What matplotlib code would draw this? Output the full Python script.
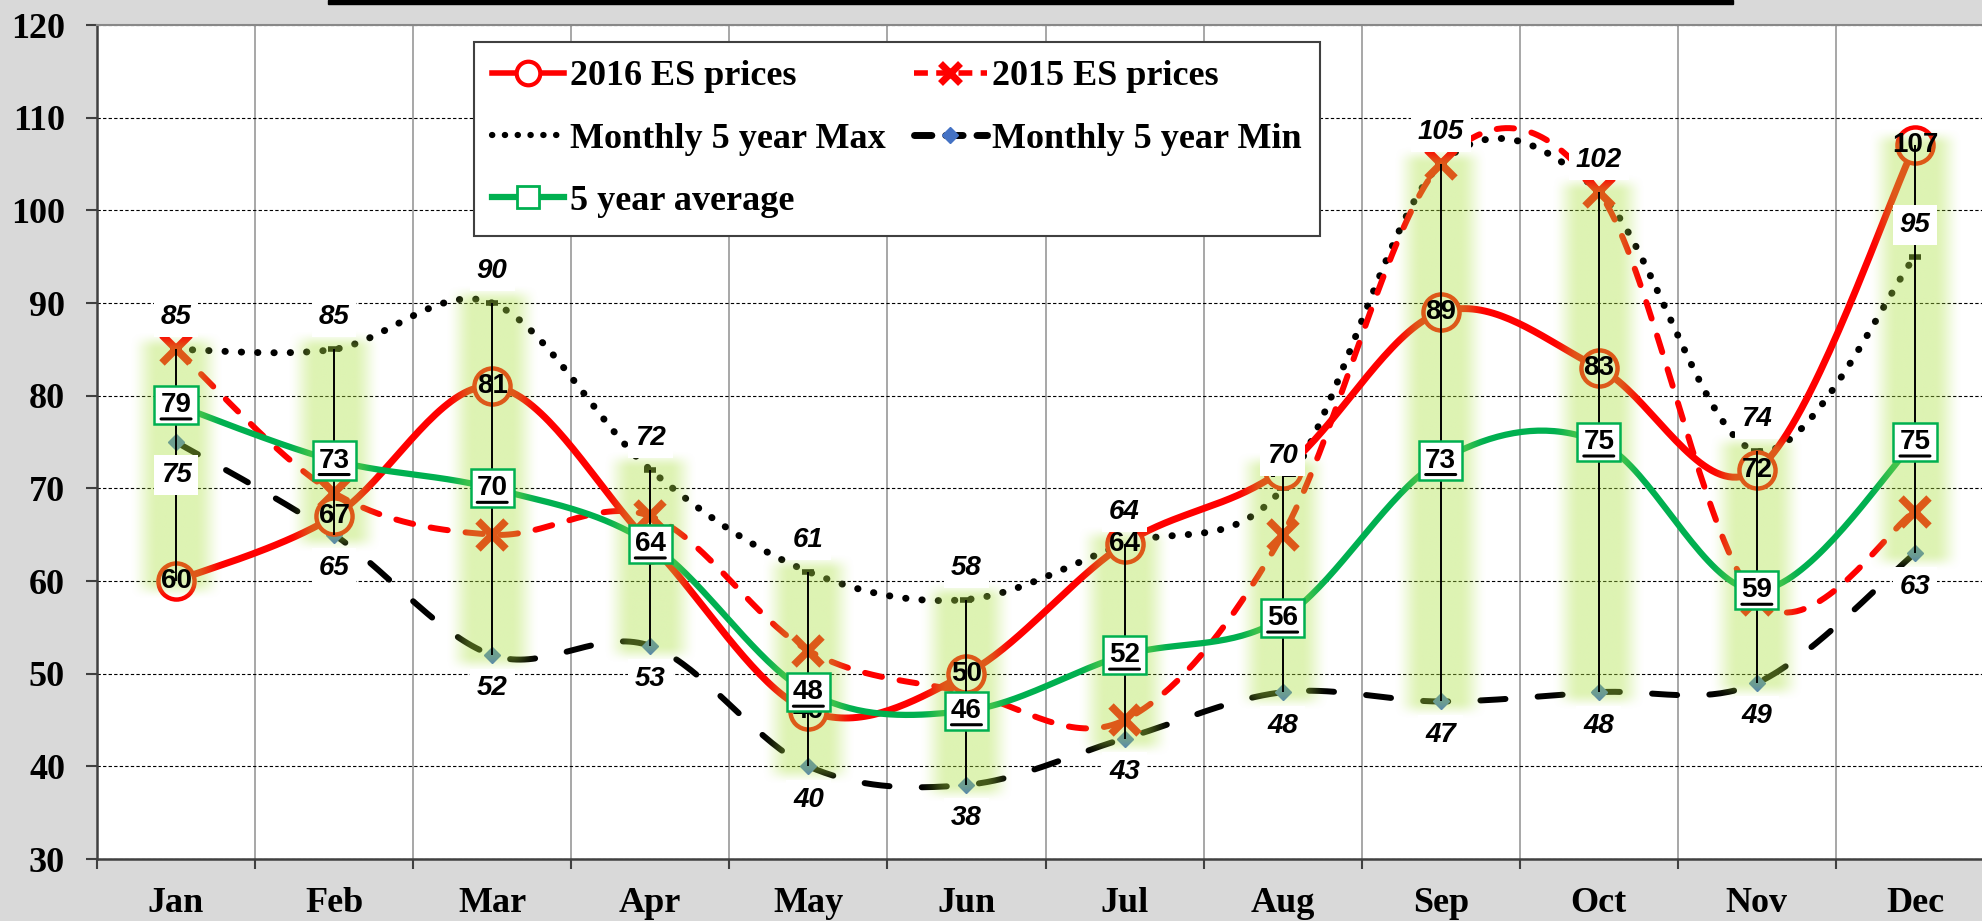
import numpy as np
import matplotlib
matplotlib.use("Agg")
import matplotlib.pyplot as plt
from matplotlib.lines import Line2D
from matplotlib.patches import Rectangle
from matplotlib.transforms import offset_copy

# data
months = ["Jan", "Feb", "Mar", "Apr", "May", "Jun",
          "Jul", "Aug", "Sep", "Oct", "Nov", "Dec"]
es_2016 = [60, 67, 81, 64, 46, 50, 64, 72, 89, 83, 72, 107]
es_2015 = [85, 69.5, 65, 67, 52.5, 48, 45, 65, 105, 102, 58, 67.5]
max_5yr = [85, 85, 90, 72, 61, 58, 64, 70, 105, 102, 74, 95]
min_5yr = [75, 65, 52, 53, 40, 38, 43, 48, 47, 48, 49, 63]
avg_5yr = [79, 73, 70, 64, 48, 46, 52, 56, 73, 75, 59, 75]

RED = "#ff0000"
GREEN = "#00b050"
SERIF = ["Liberation Serif", "DejaVu Serif"]
SANS = ["Liberation Sans", "DejaVu Sans"]


def smooth(vals, n=40):
    # excel style smoothed line (catmull-rom / bezier with 1/6 handles)
    y = np.asarray(vals, float)
    x = np.arange(len(y), dtype=float)
    px = np.concatenate([[x[0]], x, [x[-1]]])
    py = np.concatenate([[y[0]], y, [y[-1]]])
    t = np.linspace(0, 1, n)[:, None]
    xs, ys = [], []
    for i in range(len(y) - 1):
        p0 = np.array([px[i + 1], py[i + 1]])
        p3 = np.array([px[i + 2], py[i + 2]])
        c1 = p0 + (p3 - np.array([px[i], py[i]])) / 6.0
        c2 = p3 - (np.array([px[i + 3], py[i + 3]]) - p0) / 6.0
        b = ((1 - t) ** 3) * p0 + 3 * ((1 - t) ** 2) * t * c1 + 3 * (1 - t) * t ** 2 * c2 + t ** 3 * p3
        xs.append(b[:, 0])
        ys.append(b[:, 1])
    return np.concatenate(xs), np.concatenate(ys)


fig = plt.figure(figsize=(19.83, 9.21), dpi=100, facecolor="#d9d9d9")
ax = fig.add_axes([97 / 1983, 62 / 921, (1994 - 97) / 1983, 834 / 921])
ax.set_facecolor("white")

x = np.arange(len(months))

# lines
sx, sy = smooth(min_5yr)
ax.plot(sx, sy, color="black", lw=4.3, ls=(0, (4.2, 5.4)), dash_capstyle="round", zorder=2)
ax.plot(x, min_5yr, ls="none", marker="D", ms=8, color="#4472c4", zorder=2.1)

sx, sy = smooth(max_5yr)
ax.plot(sx, sy, color="black", lw=5, ls=(0, (0.05, 2.3)), dash_capstyle="round", zorder=2)
ax.plot(x, max_5yr, ls="none", marker="_", ms=9, mew=4, color="black", zorder=2.1)

sx, sy = smooth(es_2015)
ax.plot(sx, sy, color=RED, lw=4.3, ls=(0, (2.9, 3.0)), dash_capstyle="round", zorder=2.2)
ax.plot(x, es_2015, ls="none", marker="x", ms=20, mew=5.5, color=RED, zorder=2.3)

sx, sy = smooth(es_2016)
ax.plot(sx, sy, color=RED, lw=5, zorder=2.4)
ax.plot(x, es_2016, ls="none", marker="o", ms=26, mew=3.2, mfc="white", mec=RED, zorder=2.5)

sx, sy = smooth(avg_5yr)
ax.plot(sx, sy, color=GREEN, lw=4.5, zorder=2.6)

# high-low lines with soft green glow
allv = np.array([es_2016, es_2015, max_5yr, min_5yr, avg_5yr], float)
hi = allv.max(axis=0)
lo = allv.min(axis=0)

glow_rgb = np.array([172, 225, 65]) / 255.0
hw = 0.30
ext = 2.0
for i in range(len(months)):
    nx, ny = 80, 240
    u = np.abs(np.linspace(-1, 1, nx))
    ax_prof = np.clip((1 - u) / 0.6, 0, 1)
    ax_prof = ax_prof * ax_prof * (3 - 2 * ax_prof)
    yy = np.linspace(lo[i] - ext, hi[i] + ext, ny)
    d = np.minimum(yy - (lo[i] - ext), (hi[i] + ext) - yy)
    ay_prof = np.clip(d / ext, 0, 1)
    ay_prof = ay_prof * ay_prof * (3 - 2 * ay_prof)
    img = np.zeros((ny, nx, 4))
    img[..., :3] = glow_rgb
    img[..., 3] = 0.4 * ay_prof[:, None] * ax_prof[None, :]
    ax.imshow(img, extent=(i - hw, i + hw, lo[i] - ext, hi[i] + ext), origin="lower",
              aspect="auto", interpolation="bilinear", zorder=5)

ax.vlines(x, lo, hi, color="black", lw=1.4, zorder=6)

# data labels
for i in range(len(months)):
    ax.text(i, es_2016[i], "%d" % round(es_2016[i]), ha="center", va="center", fontsize=20,
            fontweight="bold", family=SANS, color="black", zorder=7)
    ax.annotate("%d" % max_5yr[i], (i, max_5yr[i]), xytext=(0, 23), textcoords="offset points",
                ha="center", va="center", fontsize=20, fontweight="bold", fontstyle="italic",
                family=SANS, zorder=8,
                bbox=dict(boxstyle="square,pad=0.25", fc="white", ec="none"))
    ax.annotate("%d" % min_5yr[i], (i, min_5yr[i]), xytext=(0, -24), textcoords="offset points",
                ha="center", va="center", fontsize=20, fontweight="bold", fontstyle="italic",
                family=SANS, zorder=8,
                bbox=dict(boxstyle="square,pad=0.25", fc="white", ec="none"))
    ax.text(i, avg_5yr[i], "%d" % avg_5yr[i], ha="center", va="center", fontsize=20,
            fontweight="bold", family=SANS, zorder=9,
            bbox=dict(boxstyle="square,pad=0.22", fc="white", ec=GREEN, lw=1.8))
    ax.annotate("", xy=(i, avg_5yr[i]),
                xycoords=offset_copy(ax.transData, fig=fig, x=-15, y=-14, units="dots"),
                xytext=(30, 0), textcoords="offset pixels",
                arrowprops=dict(arrowstyle="-", lw=2.2, color="black", shrinkA=0, shrinkB=0),
                zorder=10)

# axes styling
ax.set_xlim(-0.5, 11.5)
ax.set_ylim(30, 120)
ax.set_yticks(range(30, 121, 10))
ax.set_xticks(np.arange(-0.5, 12, 1))
ax.set_xticklabels([])
ax.set_xticks(x, minor=True)
ax.set_xticklabels(months, minor=True)
ax.tick_params(axis="x", which="major", length=7, width=1.5, color="#404040", direction="out")
ax.tick_params(axis="x", which="minor", length=0, pad=20, labelsize=26)
ax.tick_params(axis="y", length=8, width=1.5, color="#404040", pad=15, labelsize=26)
for lab in ax.get_xticklabels(minor=True) + ax.get_yticklabels():
    lab.set_family(SERIF)
    lab.set_fontweight("bold")

ax.grid(axis="x", which="major", color="#a0a0a0", lw=1.3, zorder=0.5)
ax.grid(axis="y", color="black", lw=0.8, ls=(0, (3, 2)), zorder=0.5)
ax.set_axisbelow(True)
for s in ["left", "bottom"]:
    ax.spines[s].set_color("#404040")
    ax.spines[s].set_linewidth(1.8)
ax.spines["top"].set_color("#888888")
ax.spines["top"].set_linestyle((0, (2, 1)))
ax.spines["top"].set_linewidth(1.5)
ax.spines["right"].set_visible(False)

# legend
h16 = Line2D([], [], color=RED, lw=4, marker="o", ms=17, mfc="white", mec=RED, mew=3)
h15 = Line2D([], [], color=RED, lw=4, ls=(0, (2.5, 1.5)), marker="x", ms=14, mew=5, mec=RED)
hmax = Line2D([], [], color="black", lw=4.5, ls=(0, (0.05, 2.0)), dash_capstyle="round")
hmin = Line2D([], [], color="black", lw=5, ls=(0, (2.5, 2.0)), dash_capstyle="round",
              marker="D", ms=8, mfc="#4472c4", mec="#4472c4")
havg = Line2D([], [], color=GREEN, lw=4.5, marker="s", ms=16, mfc="white", mec=GREEN, mew=2)
leg = fig.legend(handles=[h16, hmax, havg, h15, hmin],
                 labels=["2016 ES prices", "Monthly 5 year Max", "5 year average",
                         "2015 ES prices", "Monthly 5 year Min"],
                 ncol=2, loc="upper left", bbox_to_anchor=(474 / 1983, 879 / 921),
                 bbox_transform=fig.transFigure,
                 prop=dict(family=SERIF, weight="bold", size=26),
                 frameon=True, fancybox=False, edgecolor="#404040", framealpha=1,
                 borderpad=0.5, handlelength=2.0, handletextpad=0.15,
                 columnspacing=0.8, labelspacing=0.8, borderaxespad=0)
leg.get_frame().set_linewidth(1.5)

# bottom edge of the cut-off title box
fig.add_artist(Rectangle((328 / 1983, 917 / 921), (1733 - 328) / 1983, 4 / 921,
                         transform=fig.transFigure, color="black"))

fig.savefig("out.png", dpi=100, facecolor=fig.get_facecolor())
